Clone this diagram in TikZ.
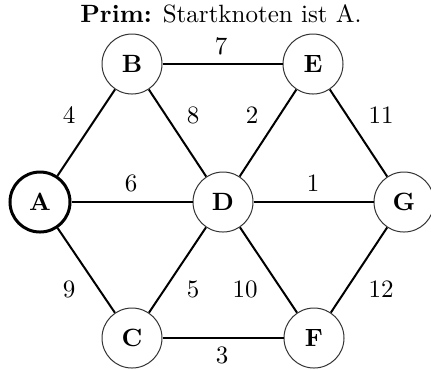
\documentclass[tikz,border=0pt]{standalone}
\begin{document}
\begin{tikzpicture}[x=0.4pt,y=-0.4pt,
  vertex/.style={circle,draw=black!80,line width=0.4pt,fill=white,minimum size=24pt,inner sep=0pt,font=\bfseries},
  start/.style={vertex,draw=black,line width=1.2pt},
  edge/.style={line width=0.8pt},
  wlabel/.style={inner sep=0pt}]
\useasboundingbox (0,0) rectangle (431,369);
\node[inner sep=0pt] (title) at (221,14) {\textbf{Prim:} Startknoten ist A.};
\node[start] (A) at (40,202) {A};
\node[vertex] (B) at (132,64) {B};
\node[vertex] (E) at (313,64) {E};
\node[vertex] (D) at (223,202) {D};
\node[vertex] (G) at (404,202) {G};
\node[vertex] (C) at (132,338) {C};
\node[vertex] (F) at (314,338) {F};
\begin{scope}[on background layer/.style={}]
\draw[edge] (A) -- (B);
\draw[edge] (A) -- (D);
\draw[edge] (A) -- (C);
\draw[edge] (B) -- (E);
\draw[edge] (B) -- (D);
\draw[edge] (E) -- (D);
\draw[edge] (E) -- (G);
\draw[edge] (D) -- (G);
\draw[edge] (D) -- (C);
\draw[edge] (D) -- (F);
\draw[edge] (C) -- (F);
\draw[edge] (F) -- (G);
\end{scope}
\node[wlabel] (w7) at (221,46) {7};
\node[wlabel] (w4) at (69,115) {4};
\node[wlabel] (w8) at (193,115) {8};
\node[wlabel] (w2) at (252,115) {2};
\node[wlabel] (w11) at (381,115) {11};
\node[wlabel] (w6) at (131,183) {6};
\node[wlabel] (w1) at (313,183) {1};
\node[wlabel] (w9) at (69,289) {9};
\node[wlabel] (w5) at (193,289) {5};
\node[wlabel] (w10) at (245,289) {10};
\node[wlabel] (w12) at (381,289) {12};
\node[wlabel] (w3) at (222,355) {3};
\end{tikzpicture}
\end{document}
